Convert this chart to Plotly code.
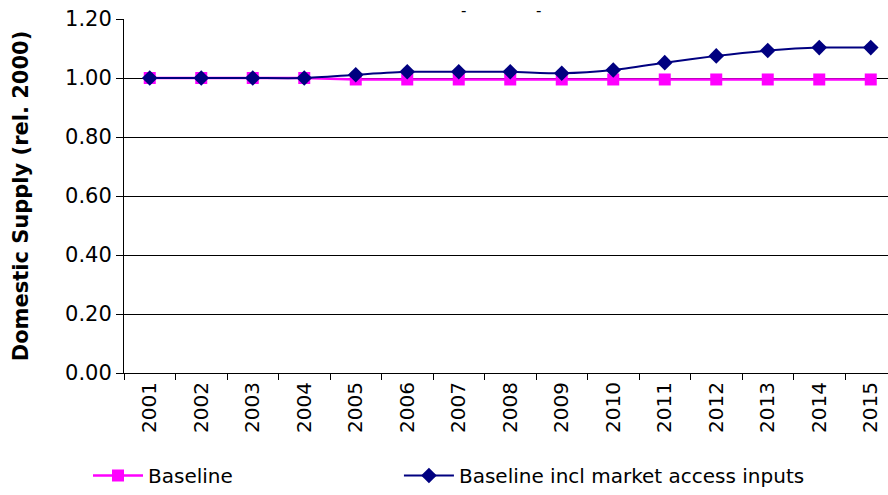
import plotly.graph_objects as go

years = [str(y) for y in range(2001, 2016)]
baseline = [1.000, 1.000, 1.000, 1.000, 0.995, 0.995, 0.995, 0.995,
            0.995, 0.995, 0.995, 0.995, 0.995, 0.995, 0.995]
baseline_market = [1.000, 1.000, 1.000, 1.000, 1.011, 1.021, 1.021, 1.021,
                   1.016, 1.027, 1.052, 1.075, 1.093, 1.103, 1.103]
y_ticks = [0.0, 0.2, 0.4, 0.6, 0.8, 1.0, 1.2]
series_names = ["Baseline", "Baseline incl market access inputs"]

FONT = "DejaVu Sans"
PAD = "\u2800" * 11  # blank glyphs that widen the first legend entry

fig = go.Figure()
fig.add_trace(go.Scatter(
    x=years, y=baseline, name=series_names[0] + PAD, mode="lines+markers",
    line=dict(color="#FF00FF", width=2.5),
    marker=dict(symbol="square", size=12, color="#FF00FF"),
))
fig.add_trace(go.Scatter(
    x=years, y=baseline_market, name=series_names[1],
    mode="lines+markers", line=dict(color="#000080", width=2, shape="spline", smoothing=0.6),
    marker=dict(symbol="diamond", size=12, color="#000080"),
))

fig.update_layout(
    width=888, height=495,
    margin=dict(l=124, r=0, t=19, b=122),
    paper_bgcolor="white", plot_bgcolor="white",
    font=dict(family=FONT, size=20, color="black"),
    showlegend=True,
    legend=dict(orientation="h", xref="container", yref="container",
                x=88 / 888, y=0.0, xanchor="left", yanchor="bottom",
                font=dict(family=FONT, size=20), itemwidth=50),
    xaxis=dict(type="category", range=[-0.5, 14.335], tickson="boundaries",
               ticks="outside", ticklen=6, tickcolor="black", tickwidth=1,
               tickangle=-90, showgrid=False, showline=True, linecolor="black",
               linewidth=1, tickfont=dict(family=FONT, size=20)),
    yaxis=dict(range=[0, 1.2], tickvals=y_ticks,
               ticktext=[f"{v:.2f}" for v in y_ticks],
               ticks="outside", ticklen=7, tickcolor="black",
               showgrid=True, gridcolor="black", gridwidth=1,
               showline=True, linecolor="black", linewidth=1,
               zeroline=False, tickfont=dict(family=FONT, size=21),
               title=dict(text="<b>Domestic Supply (rel. 2000)</b>",
                          font=dict(family=FONT, size=21), standoff=30)),
)

# Remnants of the heading above the plot area
for xp in [463, 538]:
    fig.add_annotation(text="-", xref="paper", yref="paper",
                       x=(xp - 124) / 764, y=1.0, yanchor="middle", yshift=8,
                       showarrow=False,
                       font=dict(family=FONT, size=15, color="black"))

fig.write_html("out.html")
